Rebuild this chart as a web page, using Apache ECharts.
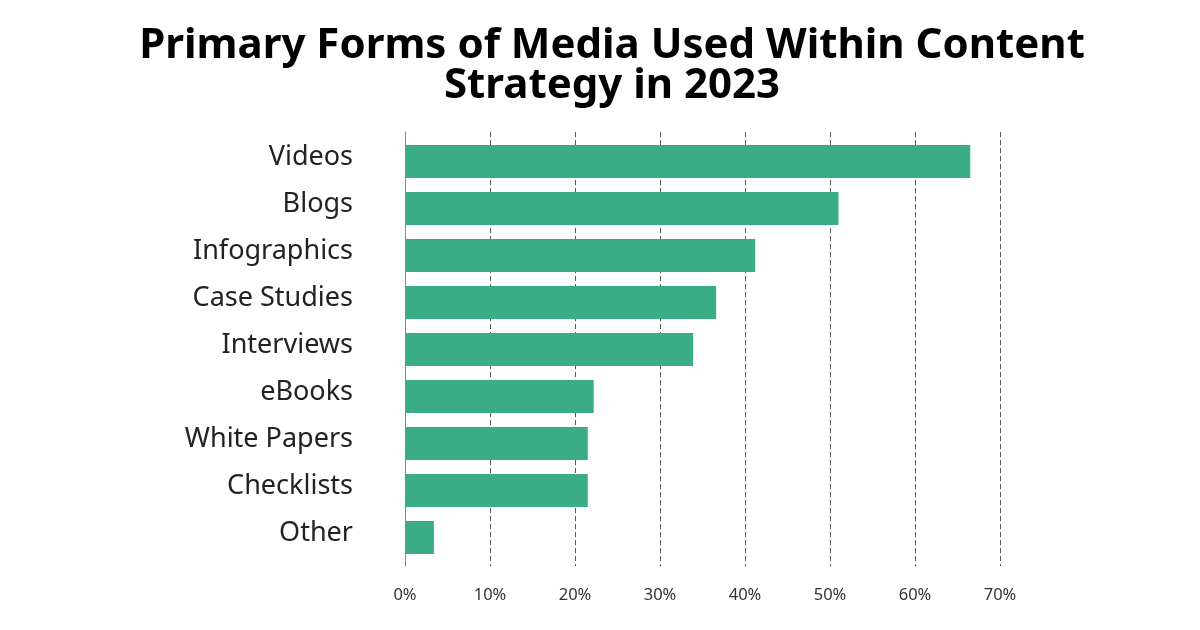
<!DOCTYPE html>
<html>
<head>
<meta charset="utf-8">
<script src="https://cdn.jsdelivr.net/npm/echarts@6/dist/echarts.min.js"></script>
<style>html,body{margin:0;padding:0;background:#fff;}#c{width:1200px;height:630px;}</style>
</head>
<body>
<div id="c"></div>
<script>
const categories = ['Videos', 'Blogs', 'Infographics', 'Case Studies', 'Interviews', 'eBooks', 'White Papers', 'Checklists', 'Other'];
const values = [66.5, 51, 41.2, 36.6, 33.9, 22.2, 21.5, 21.5, 3.4];
const tickValues = [0, 10, 20, 30, 40, 50, 60, 70];
const titleText = 'Primary Forms of Media Used Within Content\nStrategy in 2023';

const chart = echarts.init(document.getElementById('c'));
const font = '"Noto Sans", "Open Sans", sans-serif';
chart.setOption({
  backgroundColor: '#ffffff',
  animation: false,
  title: {
    text: titleText,
    left: 607, top: 21, textAlign: 'center',
    textStyle: { fontFamily: font, fontWeight: 'bold', fontSize: 42, lineHeight: 40, color: '#000' }
  },
  grid: [
    { left: 405, right: 200, top: 138, bottom: 630 - 561 },
    { left: 405, right: 200, top: 132, bottom: 630 - 566 }
  ],
  xAxis: [
    { gridIndex: 0, type: 'value', min: 0, max: 70, interval: 10, show: false },
    { gridIndex: 1, type: 'value', min: 0, max: 70, interval: 10,
      axisLine: { show: false }, axisTick: { show: false },
      axisLabel: { margin: 21, fontFamily: font, fontSize: 16.5, color: '#333', formatter: v => tickValues.includes(v) ? v + '%' : '' },
      splitLine: { show: true, lineStyle: { type: [5, 3], color: '#555', width: 1 } } }
  ],
  yAxis: [
    { gridIndex: 0, type: 'category', data: categories, inverse: true,
      axisLine: { show: false }, axisTick: { show: false },
      axisLabel: { margin: 52, fontFamily: font, fontSize: 27, color: '#222', verticalAlign: 'bottom', lineHeight: 28, padding: [0, 0, -10, 0] } },
    { gridIndex: 1, type: 'category', data: categories, inverse: true,
      axisLine: { show: true, lineStyle: { color: '#888', width: 1 } }, axisTick: { show: false },
      axisLabel: { show: false }, splitLine: { show: false } }
  ],
  series: [{
    type: 'bar', xAxisIndex: 0, yAxisIndex: 0,
    data: values, barWidth: 33,
    itemStyle: { color: '#3AAC86' }
  }]
});
</script>
</body>
</html>
